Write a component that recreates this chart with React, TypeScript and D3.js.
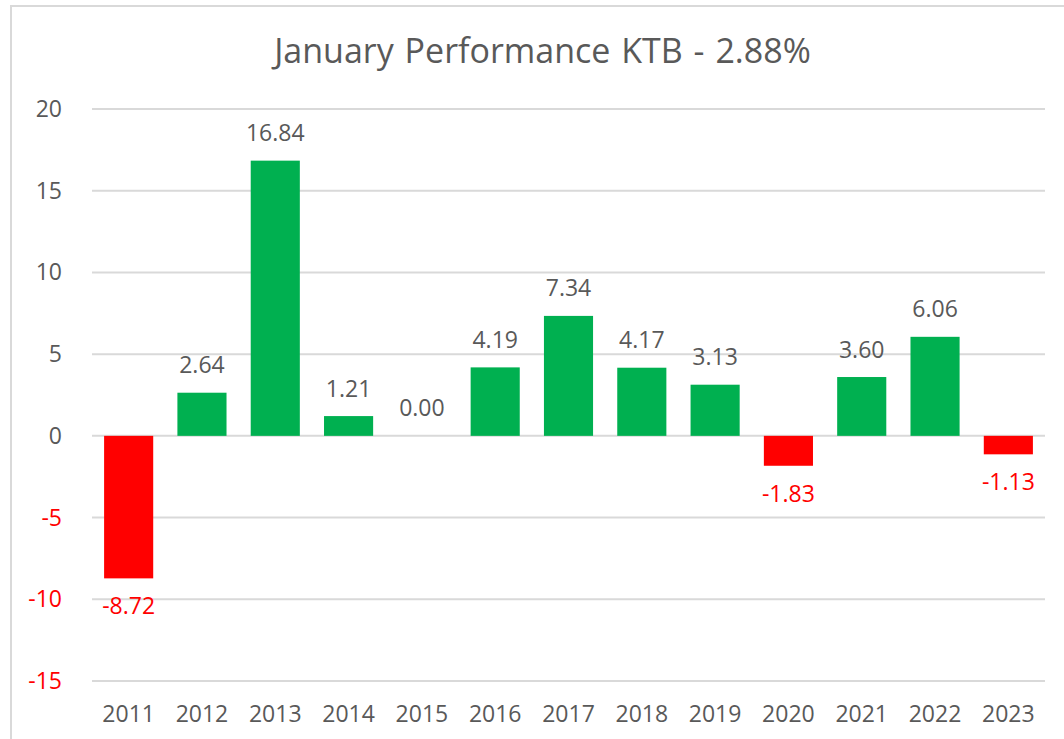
import React from "react";
import * as d3 from "d3";

const years = ["2011","2012","2013","2014","2015","2016","2017","2018","2019","2020","2021","2022","2023"];
const values = [-8.72, 2.64, 16.84, 1.21, 0.0, 4.19, 7.34, 4.17, 3.13, -1.83, 3.6, 6.06, -1.13];
const yTicks = [-15, -10, -5, 0, 5, 10, 15, 20];
const title = "January Performance KTB - 2.88%";

const W = 1064;
const H = 739;
const FONT = "'Open Sans', 'Liberation Sans', sans-serif";
const GRAY = "#595959";
const GREEN = "#00B050";
const RED = "#FF0000";
const GRID = "#D9D9D9";

export default function App() {
  const x = d3.scaleBand<string>().domain(years).range([92, 1045]).paddingInner(0.33).paddingOuter(0.165);
  const y = d3.scaleLinear().domain([-15, 20]).range([681, 109]);
  return (
    <svg width={W} height={H} style={{ position: "absolute", left: 0, top: 0, background: "#fff" }} fontFamily={FONT}>
      <rect x={0} y={0} width={W} height={H} fill="#fff" />
      <rect x={11} y={6} width={1080} height={760} fill="none" stroke={GRID} strokeWidth={2} />
      <text x={542.5} y={63} textAnchor="middle" fontSize={34} wordSpacing={2} fill={GRAY}>{title}</text>
      {yTicks.map((t) => (
        <g key={t}>
          <line x1={92} x2={1045} y1={y(t)} y2={y(t)} stroke={GRID} strokeWidth={2} />
          <text x={62} y={y(t) + 8} textAnchor="end" fontSize={23} fill={t < 0 ? RED : GRAY}>{t}</text>
        </g>
      ))}
      {values.map((v, i) => {
        const yr = years[i];
        const x0 = x(yr)!;
        const top = y(Math.max(v, 0));
        const bot = y(Math.min(v, 0));
        return (
          <g key={yr}>
            {v !== 0 && (
              <rect x={x0} y={top} width={x.bandwidth()} height={bot - top} fill={v < 0 ? RED : GREEN} />
            )}
            <text
              x={x0 + x.bandwidth() / 2}
              y={v < 0 ? y(v) + 36 : y(v) - 19.5}
              textAnchor="middle"
              fontSize={23}
              fill={v < 0 ? RED : GRAY}
            >
              {v.toFixed(2)}
            </text>
            <text x={x0 + x.bandwidth() / 2} y={722} textAnchor="middle" fontSize={23} fill={GRAY}>{yr}</text>
          </g>
        );
      })}
    </svg>
  );
}
